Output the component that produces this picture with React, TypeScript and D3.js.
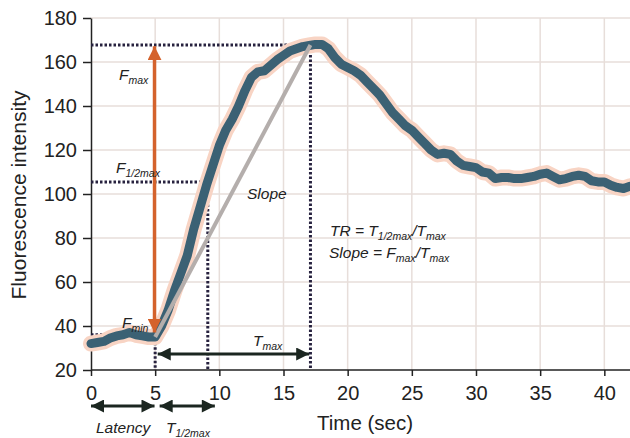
import React, { useEffect, useRef } from "react";
import * as d3 from "d3";

// time in seconds, read every half second off the trace
const times = d3.range(0, 42.5, 0.5);
const intensity = [
  32, 32.5, 33, 34.5, 35.5, 36, 37, 36, 35.5, 35, 35,
  40, 47, 56, 64, 72, 84, 94, 104, 113, 122, 129, 134, 140, 147, 153, 155.5, 156, 158.5, 161, 163, 165, 166, 167, 167.5, 168,
  168, 166, 162, 159, 157.5, 156, 154, 151, 148, 145, 141, 137, 134, 131, 129, 126, 123, 120, 118, 118.5, 118, 115, 113, 112.5,
  112, 110, 109.5, 107, 107.5, 107.5, 107, 107, 107.5, 108, 109, 109.5, 108, 106.5, 107, 108, 108.5, 108, 106, 105.5, 105.5,
  104, 103, 102.5, 103.5, 105,
];

const xTicks = [0, 5, 10, 15, 20, 25, 30, 35, 40];
const yTicks = [20, 40, 60, 80, 100, 120, 140, 160, 180];

// annotation points
const tLatency = 5;
const tHalf = 9.1;
const tMax = 17.1;
const fMin = 36;
const fHalf = 105.5;
const fMax = 167.7;

const font = "'Liberation Sans', Arial, sans-serif";

export default function App() {
  const ref = useRef<SVGSVGElement>(null);

  useEffect(() => {
    const svg = d3.select(ref.current);
    svg.selectAll("*").remove();

    const left = 91, right = 630, top = 18, bottom = 370;
    const x = d3.scaleLinear().domain([0, 42]).range([left, right]);
    const y = d3.scaleLinear().domain([20, 180]).range([bottom, top]);

    const defs = svg.append("defs");
    const marker = (id: string, color: string, w: number, h: number) => {
      defs.append("marker").attr("id", id).attr("viewBox", "0 0 10 10").attr("refX", 10).attr("refY", 5)
        .attr("markerWidth", w).attr("markerHeight", h).attr("markerUnits", "userSpaceOnUse").attr("orient", "auto-start-reverse")
        .append("path").attr("d", "M0,0L10,5L0,10Z").attr("fill", color);
    };
    marker("orange", "#d4622c", 14, 14);
    marker("black", "#1b2620", 15, 13);

    // grid
    const grid = svg.append("g").attr("stroke", "#e7deda").attr("stroke-width", 1.5);
    grid.selectAll("line.v").data(xTicks.filter(d => d > 0)).join("line").attr("class", "v")
      .attr("x1", d => x(d)).attr("x2", d => x(d)).attr("y1", top).attr("y2", bottom);
    grid.selectAll("line.h").data(yTicks.filter(d => d > 20)).join("line").attr("class", "h")
      .attr("x1", left).attr("x2", right).attr("y1", d => y(d)).attr("y2", d => y(d));

    // axes
    const xAxis = svg.append("g").attr("transform", `translate(0,${bottom})`)
      .call(d3.axisBottom(x).tickValues(xTicks).tickSize(6).tickSizeOuter(0).tickPadding(10));
    const yAxis = svg.append("g").attr("transform", `translate(${left},0)`)
      .call(d3.axisLeft(y).tickValues(yTicks).tickSize(8).tickSizeOuter(0).tickPadding(6));
    [xAxis, yAxis].forEach(a => {
      a.selectAll("path, line").attr("stroke", "#222").attr("stroke-width", 1.5);
      a.selectAll("text").attr("font-family", font).attr("font-size", 20).attr("fill", "#222");
    });
    xAxis.select(".domain").attr("d", `M${left},0H${right}`);

    svg.append("text").attr("transform", `translate(26,195) rotate(-90)`)
      .attr("text-anchor", "middle").attr("font-family", font).attr("font-size", 21).attr("fill", "#222")
      .text("Fluorescence intensity");
    svg.append("text").attr("x", 317).attr("y", 430).attr("font-family", font).attr("font-size", 20.5).attr("fill", "#222")
      .text("Time (sec)");

    // dotted guides
    const dots = svg.append("g").attr("stroke", "#27223f").attr("stroke-width", 3).attr("stroke-dasharray", "2.5,2").attr("fill", "none");
    [[fMax, tMax], [fHalf, tHalf], [fMin, tLatency]].forEach(([f, t]) => {
      dots.append("path").attr("d", `M${x(0)},${y(f)}H${x(t)}V${y(20)}`);
    });

    // trace
    const pts = times.map((t, i) => [t, intensity[i]] as [number, number]);
    const line = d3.line<[number, number]>().x(d => x(d[0])).y(d => y(d[1]));
    svg.append("path").datum(pts).attr("d", line).attr("fill", "none").attr("stroke", "#f8d4c4")
      .attr("stroke-width", 16).attr("stroke-linejoin", "round").attr("stroke-linecap", "round");
    svg.append("path").datum(pts).attr("d", line).attr("fill", "none").attr("stroke", "#3b6174")
      .attr("stroke-width", 9).attr("stroke-linejoin", "round").attr("stroke-linecap", "round");

    // slope line
    svg.append("line").attr("x1", x(tLatency)).attr("y1", y(fMin - 1)).attr("x2", x(tMax)).attr("y2", y(fMax))
      .attr("stroke", "#b4aeac").attr("stroke-width", 4);

    // F range arrow
    svg.append("line").attr("x1", x(4.95)).attr("x2", x(4.95)).attr("y1", y(fMin + 1)).attr("y2", y(fMax - 0.5))
      .attr("stroke", "#d4622c").attr("stroke-width", 3.5)
      .attr("marker-start", "url(#orange)").attr("marker-end", "url(#orange)");

    // time arrows
    const arrow = (t0: number, t1: number, yy: number) => {
      svg.append("line").attr("x1", x(t0)).attr("x2", x(t1)).attr("y1", yy).attr("y2", yy)
        .attr("stroke", "#1b2620").attr("stroke-width", 3)
        .attr("marker-start", "url(#black)").attr("marker-end", "url(#black)");
    };
    arrow(5.2, tMax - 0.1, 354);
    arrow(0, 4.95, 406);
    arrow(5.35, 9.65, 406);

    // labels with subscripts
    const label = (px: number, py: number, main: string, sub?: string, rest?: string, sub2?: string) => {
      const t = svg.append("text").attr("x", px).attr("y", py).attr("font-family", font).attr("font-size", 15.5)
        .attr("font-style", "italic").attr("fill", "#222");
      t.append("tspan").text(main);
      if (sub) t.append("tspan").attr("font-size", 10.5).attr("dy", 4).text(sub);
      if (rest) t.append("tspan").attr("dy", -4).text(rest);
      if (sub2) t.append("tspan").attr("font-size", 10.5).attr("dy", 4).text(sub2);
    };
    label(119, 80, "F", "max");
    label(116, 173, "F", "1/2max");
    label(122, 328, "F", "min");
    label(253, 346, "T", "max");
    label(247, 199, "Slope");
    label(96, 433, "Latency");
    label(166, 433, "T", "1/2max");
    label(330, 236, "TR = T", "1/2max", "/T", "max");
    label(329, 258, "Slope = F", "max", "/T", "max");
  }, []);

  return (
    <div style={{ position: "absolute", left: 0, top: 0 }}>
      <svg ref={ref} width={630} height={438} style={{ display: "block", background: "#fff" }} />
    </div>
  );
}
